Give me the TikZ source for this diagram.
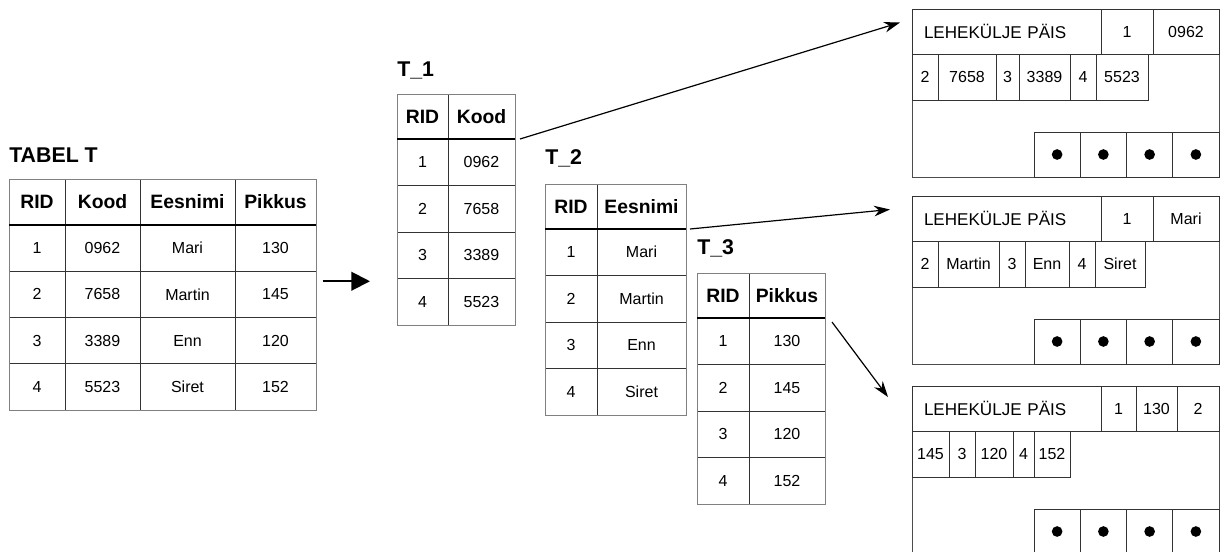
\documentclass[tikz,border=0pt]{standalone}
\usepackage{fontspec}
\setmainfont{Liberation Sans}
\usetikzlibrary{arrows.meta,positioning}
\tikzset{cell/.style={draw=black!80,line width=0.75pt,anchor=north west,inner sep=0pt,outer sep=0pt,font=\fontsize{12}{14}\selectfont},
head/.style={cell,font=\fontsize{14.5}{16}\selectfont\bfseries},
title/.style={anchor=west,inner sep=0pt,font=\fontsize{16}{18}\selectfont\bfseries},
rim/.style={draw=black!50,line width=0.75pt},
sep/.style={line width=1.8pt},
page/.style={draw=black!70,line width=0.75pt,anchor=north west,inner sep=0pt,outer sep=0pt,minimum width=230.25pt,minimum height=126pt},
arrow/.style={-{Stealth[length=12pt,width=8pt]},line width=0.9pt},
bigarrow/.style={-{Triangle[length=14pt,width=14pt]},line width=1.5pt}}

\begin{document}
\begin{tikzpicture}[x=0.75pt,y=-0.75pt]
\useasboundingbox (0,0) rectangle (1222,551);
\clip (0,0) rectangle (1222,551);

% tabel T
\node[title] (tT) at (9,155) {TABEL T};
\node[head,minimum width=42pt,minimum height=34.5pt] (T-0-1) at (9,179) {RID};
\node[head,minimum width=56.25pt,minimum height=34.5pt,right=0pt of T-0-1] (T-0-2) {Kood};
\node[head,minimum width=71.25pt,minimum height=34.5pt,right=0pt of T-0-2] (T-0-3) {Eesnimi};
\node[head,minimum width=60.75pt,minimum height=34.5pt,right=0pt of T-0-3] (T-0-4) {Pikkus};
\foreach \a/\b/\c/\d [count=\i] in {1/0962/Mari/130,2/7658/Martin/145,3/3389/Enn/120,4/5523/Siret/152}{
  \pgfmathsetmacro\y{225+(\i-1)*46.25}
  \node[cell,minimum width=42pt,minimum height=34.69pt] (T-\i-1) at (9,\y) {\a};
  \node[cell,minimum width=56.25pt,minimum height=34.69pt,right=0pt of T-\i-1] (T-\i-2) {\b};
  \node[cell,minimum width=71.25pt,minimum height=34.69pt,right=0pt of T-\i-2] (T-\i-3) {\c};
  \node[cell,minimum width=60.75pt,minimum height=34.69pt,right=0pt of T-\i-3] (T-\i-4) {\d};
}
\draw[rim] (T-0-1.north west) rectangle (T-4-4.south east);
\draw[sep] (T-0-1.south west) -- (T-0-4.south east);

% T_1
\node[title] (t1) at (397,70) {T\_1};
\node[head,minimum width=38.25pt,minimum height=33.75pt] (A-0-1) at (397,94) {RID};
\node[head,minimum width=50.25pt,minimum height=33.75pt,right=0pt of A-0-1] (A-0-2) {Kood};
\foreach \a/\b [count=\i] in {1/0962,2/7658,3/3389,4/5523}{
  \pgfmathsetmacro\y{139+(\i-1)*46.5}
  \node[cell,minimum width=38.25pt,minimum height=34.88pt] (A-\i-1) at (397,\y) {\a};
  \node[cell,minimum width=50.25pt,minimum height=34.88pt,right=0pt of A-\i-1] (A-\i-2) {\b};
}
\draw[rim] (A-0-1.north west) rectangle (A-4-2.south east);
\draw[sep] (A-0-1.south west) -- (A-0-2.south east);

% T_2
\node[title] (t2) at (545,158) {T\_2};
\node[head,minimum width=39pt,minimum height=33.75pt] (B-0-1) at (545,184) {RID};
\node[head,minimum width=66.75pt,minimum height=33.75pt,right=0pt of B-0-1] (B-0-2) {Eesnimi};
\foreach \a/\b [count=\i] in {1/Mari,2/Martin,3/Enn,4/Siret}{
  \pgfmathsetmacro\y{229+(\i-1)*46.5}
  \node[cell,minimum width=39pt,minimum height=34.88pt] (B-\i-1) at (545,\y) {\a};
  \node[cell,minimum width=66.75pt,minimum height=34.88pt,right=0pt of B-\i-1] (B-\i-2) {\b};
}
\draw[rim] (B-0-1.north west) rectangle (B-4-2.south east);
\draw[sep] (B-0-1.south west) -- (B-0-2.south east);

% T_3
\node[title] (t3) at (697,248) {T\_3};
\node[head,minimum width=39pt,minimum height=33.75pt] (C-0-1) at (697,273) {RID};
\node[head,minimum width=57pt,minimum height=33.75pt,right=0pt of C-0-1] (C-0-2) {Pikkus};
\foreach \a/\b [count=\i] in {1/130,2/145,3/120,4/152}{
  \pgfmathsetmacro\y{318+(\i-1)*46.5}
  \node[cell,minimum width=39pt,minimum height=34.88pt] (C-\i-1) at (697,\y) {\a};
  \node[cell,minimum width=57pt,minimum height=34.88pt,right=0pt of C-\i-1] (C-\i-2) {\b};
}
\draw[rim] (C-0-1.north west) rectangle (C-4-2.south east);
\draw[sep] (C-0-1.south west) -- (C-0-2.south east);

% pages
\foreach \p/\y in {1/9,2/196,3/386}{
  \node[page] (pg\p) at (912,\y) {};
  \node[cell,minimum width=141.75pt,minimum height=33.75pt,text width=123.75pt,inner xsep=9pt,align=left,font=\fontsize{12.8}{14}\selectfont] (pg\p-h1) at (912,\y) {LEHEKÜLJE PÄIS};
  \foreach \k in {1,...,4}{
    \pgfmathsetmacro\dx{1034+(\k-1)*46.25}
    \node[cell,anchor=south west,minimum width=34.69pt,minimum height=33.75pt] (pg\p-d\k) at (\dx,\y+168) {};
    \fill (pg\p-d\k) circle (4pt);
  }
}
\node[cell,minimum width=39pt,minimum height=33.75pt,right=0pt of pg1-h1] (pg1-h2) {1};
\node[cell,minimum width=49.5pt,minimum height=33.75pt,right=0pt of pg1-h2] (pg1-h3) {0962};
\node[cell,minimum width=19.5pt,minimum height=34.5pt,below=0pt of pg1-h1.south west,anchor=north west] (pg1-r1) {2};
\node[cell,minimum width=43.5pt,minimum height=34.5pt,right=0pt of pg1-r1] (pg1-r2) {7658};
\node[cell,minimum width=17.25pt,minimum height=34.5pt,right=0pt of pg1-r2] (pg1-r3) {3};
\node[cell,minimum width=38.25pt,minimum height=34.5pt,right=0pt of pg1-r3] (pg1-r4) {3389};
\node[cell,minimum width=19.5pt,minimum height=34.5pt,right=0pt of pg1-r4] (pg1-r5) {4};
\node[cell,minimum width=39pt,minimum height=34.5pt,right=0pt of pg1-r5] (pg1-r6) {5523};

\node[cell,minimum width=39pt,minimum height=33.75pt,right=0pt of pg2-h1] (pg2-h2) {1};
\node[cell,minimum width=49.5pt,minimum height=33.75pt,right=0pt of pg2-h2] (pg2-h3) {Mari};
\node[cell,minimum width=19.5pt,minimum height=34.5pt,below=0pt of pg2-h1.south west,anchor=north west] (pg2-r1) {2};
\node[cell,minimum width=45.75pt,minimum height=34.5pt,right=0pt of pg2-r1] (pg2-r2) {Martin};
\node[cell,minimum width=19.5pt,minimum height=34.5pt,right=0pt of pg2-r2] (pg2-r3) {3};
\node[cell,minimum width=33pt,minimum height=34.5pt,right=0pt of pg2-r3] (pg2-r4) {Enn};
\node[cell,minimum width=19.5pt,minimum height=34.5pt,right=0pt of pg2-r4] (pg2-r5) {4};
\node[cell,minimum width=37.5pt,minimum height=34.5pt,right=0pt of pg2-r5] (pg2-r6) {Siret};

\node[cell,minimum width=26.25pt,minimum height=33.75pt,right=0pt of pg3-h1] (pg3-h2) {1};
\node[cell,minimum width=30.75pt,minimum height=33.75pt,right=0pt of pg3-h2] (pg3-h3) {130};
\node[cell,minimum width=31.5pt,minimum height=33.75pt,right=0pt of pg3-h3] (pg3-h4) {2};
\node[cell,minimum width=27.75pt,minimum height=34.5pt,below=0pt of pg3-h1.south west,anchor=north west] (pg3-r1) {145};
\node[cell,minimum width=19.5pt,minimum height=34.5pt,right=0pt of pg3-r1] (pg3-r2) {3};
\node[cell,minimum width=28.5pt,minimum height=34.5pt,right=0pt of pg3-r2] (pg3-r3) {120};
\node[cell,minimum width=15.75pt,minimum height=34.5pt,right=0pt of pg3-r3] (pg3-r4) {4};
\node[cell,minimum width=27pt,minimum height=34.5pt,right=0pt of pg3-r4] (pg3-r5) {152};

% arrows
\draw[bigarrow] ([xshift=5pt,yshift=-7.5pt]T-2-4.north east) -- ([xshift=40.5pt,yshift=-7.5pt]T-2-4.north east);
\draw[arrow] ([xshift=3.75pt]A-0-2.south east) -- ([xshift=-9pt,yshift=6.75pt]pg1-h1.west);
\draw[arrow] ([xshift=3pt]B-0-2.south east) -- ([xshift=-16.5pt,yshift=6.75pt]pg2-h1.west);
\draw[arrow] ([xshift=5.25pt,yshift=-3pt]C-0-2.south east) -- ([xshift=-18pt,yshift=8.6pt]pg3-h1.west);
\end{tikzpicture}
\end{document}
